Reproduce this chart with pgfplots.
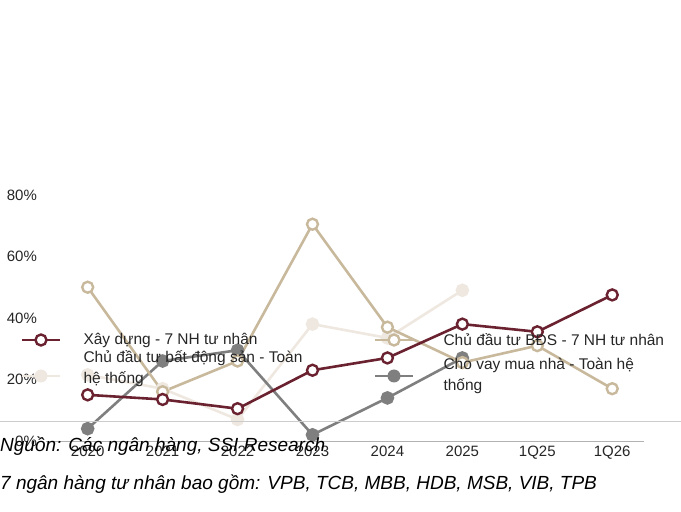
\documentclass[border=0pt]{standalone}
\usepackage{pgfplots}
\pgfplotsset{compat=1.18}
\usepackage{fontspec}
\setmainfont{Liberation Sans}
\definecolor{maroon}{HTML}{6B2230}
\definecolor{tan}{HTML}{C9B99C}
\definecolor{light}{HTML}{EEE8E0}
\definecolor{gry}{HTML}{7F7F7F}
\begin{document}
\begin{tikzpicture}[x=1pt,y=1pt]
\useasboundingbox (0,0) rectangle (681,512);
\begin{axis}[at={(62,231)},anchor=south west,scale only axis,width=598pt,height=246pt,
 xmin=-0.55,xmax=7.43,ymin=0,ymax=80,
 axis x line=bottom,axis y line=left,axis line style={draw=none},
 clip=false,
 xtick={0,...,7},xticklabels={2020,2021,2022,2023,2024,2025,1Q25,1Q26},
 ytick={0,20,40,60,80},yticklabel={\pgfmathprintnumber{\tick}\%},
 /pgf/number format/assume math mode=true,
 tick label style={font=\fontsize{15}{17}\selectfont,text=black!85},
 xticklabel style={yshift=-2pt},
 yticklabel style={xshift=-6pt},
 major tick length=0pt,
 every axis plot/.append style={line width=2.6pt,mark size=5.5pt}]
\draw[gray!60,line width=0.8pt] (axis cs:-0.55,0) -- (axis cs:7.43,0);
\addplot[light,mark=*,mark options={fill=light}] coordinates {(0,21.5)(1,17)(2,7)(3,38)(4,33.5)(5,49)};
\addplot[gry,mark=*,mark options={fill=gry}] coordinates {(0,4)(1,26)(2,29.5)(3,2)(4,14)(5,27)};
\addplot[tan,mark=*,mark options={fill=white,line width=2.4pt}] coordinates {(0,50)(1,16)(2,26)(3,70.5)(4,37)(5,25.5)(6,31)(7,17)};
\addplot[maroon,mark=*,mark options={fill=white,line width=2.4pt}] coordinates {(0,15)(1,13.5)(2,10.5)(3,23)(4,27)(5,38)(6,35.5)(7,47.5)};
\end{axis}
\tikzset{lg/.style={font=\fontsize{15.5}{21}\selectfont,anchor=west,text=black!85,align=left}}
% legend
\draw[maroon,line width=2.6pt] (22,172)--(60,172);
\draw[maroon,line width=2.4pt,fill=white] (41,172) circle (5.5);
\node[lg] at (80,172) {Xây dựng - 7 NH tư nhân};
\draw[tan,line width=2.6pt] (375,172)--(413,172);
\draw[tan,line width=2.4pt,fill=white] (394,172) circle (5.5);
\node[lg] at (440,172) {Chủ đầu tư BĐS - 7 NH tư nhân};
\draw[light,line width=2.6pt] (22,136)--(60,136);
\fill[light] (41,136) circle (6.5);
\node[lg] at (80,143) {Chủ đầu tư bất động sản - Toàn\\hệ thống};
\draw[gry,line width=2.6pt] (375,136)--(413,136);
\fill[gry] (394,136) circle (6.5);
\node[lg] at (440,136) {Cho vay mua nhà - Toàn hệ\\thống};
\draw[gray!40,line width=0.8pt] (0,91)--(681,91);
\node[anchor=west,inner sep=0pt,font=\itshape\fontsize{19}{22}\selectfont] at (0,66) {Nguồn: Các ngân hàng, SSI Research};
\node[anchor=west,inner sep=0pt,font=\itshape\fontsize{19}{22}\selectfont] at (0,28) {7 ngân hàng tư nhân bao gồm: VPB, TCB, MBB, HDB, MSB, VIB, TPB};
\end{tikzpicture}
\end{document}
